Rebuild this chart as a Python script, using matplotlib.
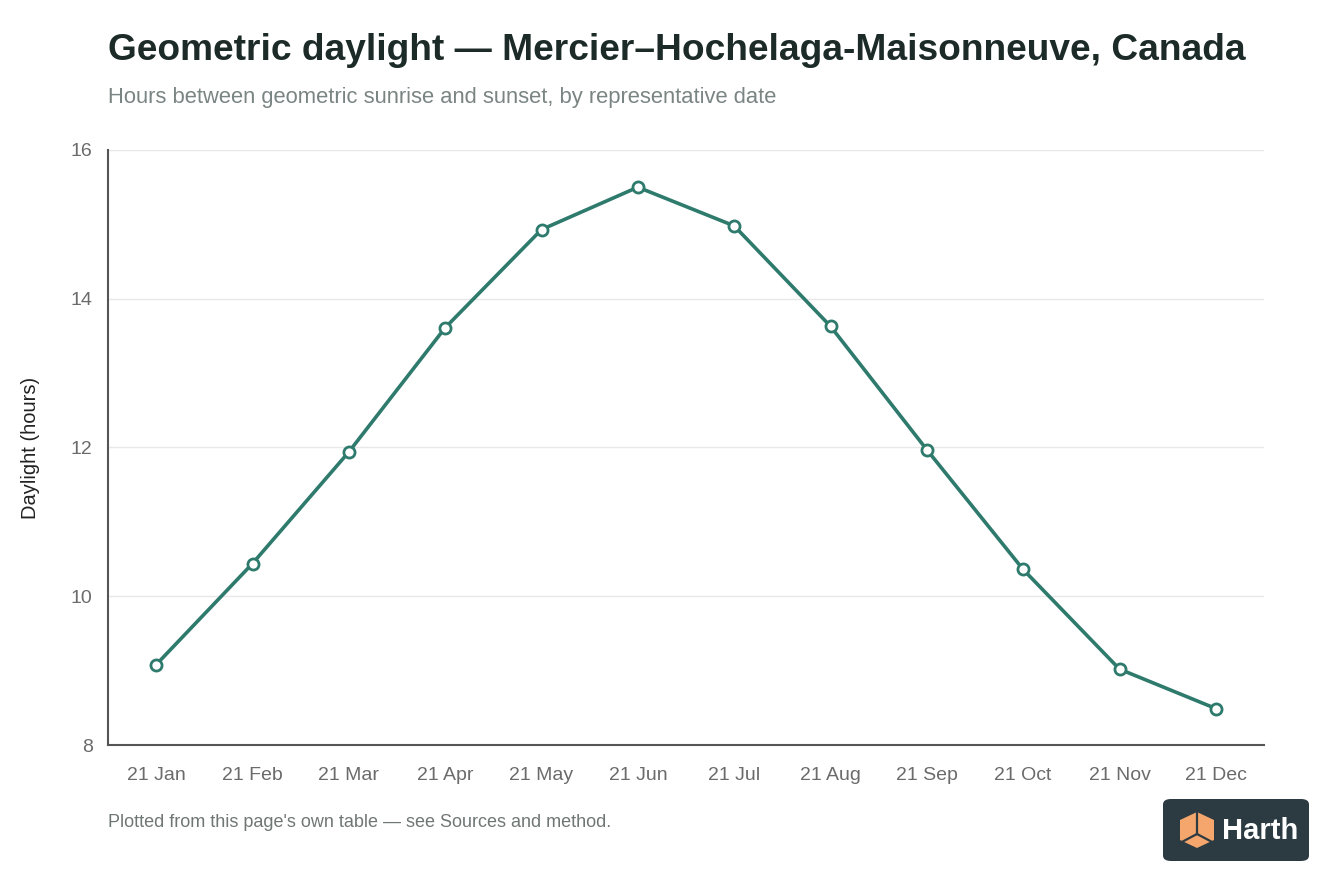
import matplotlib.pyplot as plt
from matplotlib.patches import FancyBboxPatch, Polygon

dates = ["21 Jan", "21 Feb", "21 Mar", "21 Apr", "21 May", "21 Jun",
         "21 Jul", "21 Aug", "21 Sep", "21 Oct", "21 Nov", "21 Dec"]
daylight = [9.08, 10.44, 11.94, 13.61, 14.93, 15.50,
            14.98, 13.63, 11.97, 10.36, 9.02, 8.49]
yticks = [8, 10, 12, 14, 16]

plt.rcParams['font.family'] = ['Liberation Sans', 'DejaVu Sans']

line_col = '#2e7a6c'
tick_col = '#6b6b6b'

fig = plt.figure(figsize=(13.44, 8.96), dpi=100)
ax = fig.add_axes([108/1344, 1 - 745/896, (1264 - 108)/1344, (745 - 150)/896])

x = list(range(len(dates)))
ax.plot(x, daylight, color=line_col, linewidth=2.6, marker='o', markersize=8,
        markerfacecolor='white', markeredgecolor=line_col, markeredgewidth=2, zorder=3)

ax.set_xlim(-0.5, len(dates) - 0.5)
ax.set_ylim(8, 16)
ax.set_xticks(x)
ax.set_xticklabels(dates)
ax.set_yticks(yticks)
ax.tick_params(length=0, labelsize=14, colors=tick_col)
ax.tick_params(axis='x', pad=16)
ax.tick_params(axis='y', pad=11)
ax.grid(axis='y', color='#e8e8e8', linewidth=1)
ax.set_axisbelow(True)
for s in ['top', 'right']:
    ax.spines[s].set_visible(False)
for s in ['left', 'bottom']:
    ax.spines[s].set_color('#555555')
    ax.spines[s].set_linewidth(1.5)

ax.set_ylabel('Daylight (hours)', fontsize=14.5, color='#222222')
ax.yaxis.set_label_coords((40 - 108) / 1156, 0.5)

fig.text(108/1344, 1 - 51/896, 'Geometric daylight \u2014 Mercier\u2013Hochelaga-Maisonneuve, Canada',
         fontsize=26.7, fontweight='bold', color='#1c2b28', va='center', ha='left')
fig.text(108/1344, 1 - 97/896, 'Hours between geometric sunrise and sunset, by representative date',
         fontsize=15.8, color='#7a8583', va='center', ha='left')
fig.text(108/1344, 1 - 822/896, "Plotted from this page's own table \u2014 see Sources and method.",
         fontsize=13, color='#6f7775', va='center', ha='left')

# logo badge
W, H = 1344, 896
def fx(px):
    return px / W
def fy(py):
    return 1 - py / H

badge = FancyBboxPatch((fx(1163), fy(861)), fx(1309) - fx(1163), fy(799) - fy(861),
                       boxstyle='round,pad=0,rounding_size=0.006', transform=fig.transFigure,
                       facecolor='#2c3a41', edgecolor='none')
fig.patches.append(badge)
cx, cy = 1197, 830
hexpts = [(cx, 812), (cx + 17, 820), (cx + 17, 840), (cx, 848), (cx - 17, 840), (cx - 17, 820)]
fig.patches.append(Polygon([(fx(a), fy(b)) for a, b in hexpts], closed=True,
                           transform=fig.transFigure, facecolor='#f5a66c', edgecolor='none'))
for a, b in [((cx, 812), (cx, 834)), ((cx, 834), (cx - 17, 843)), ((cx, 834), (cx + 17, 843))]:
    fig.add_artist(plt.Line2D([fx(a[0]), fx(b[0])], [fy(a[1]), fy(b[1])],
                              transform=fig.transFigure, color='#2c3a41', linewidth=1.6))
fig.text(fx(1222), fy(831), 'Harth', fontsize=21, fontweight='bold', color='white',
         va='center', ha='left')

fig.savefig('out.png', dpi=100, facecolor='white')
